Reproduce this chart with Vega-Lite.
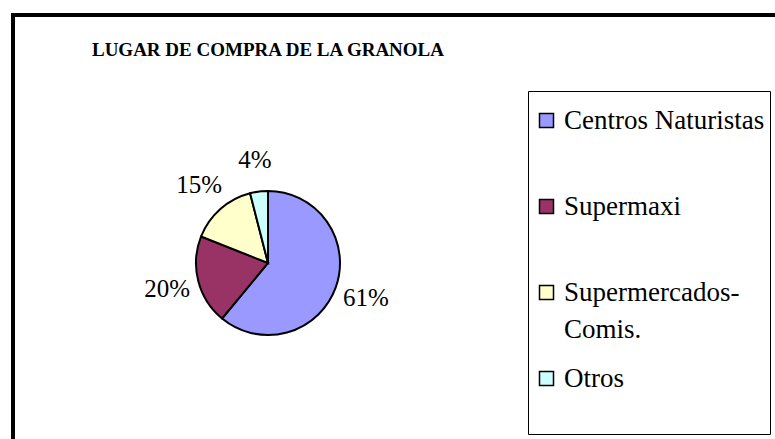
{
  "$schema": "https://vega.github.io/schema/vega-lite/v6.json",
  "autosize": {"type": "pad"},
  "padding": {"left": 10, "top": 12, "right": -2, "bottom": -73},
  "background": "white",
  "spacing": -4,
  "config": {
    "concat": {"spacing": -4},
    "style": {"guide-label": {"lineHeight": 37}}
  },
  "data": {
    "values": [
      {"lugar": "Centros Naturistas", "proporcion": 0.61, "orden": 1},
      {"lugar": "Supermaxi", "proporcion": 0.20, "orden": 2},
      {"lugar": "Supermercados-Comis.", "proporcion": 0.15, "orden": 3},
      {"lugar": "Otros", "proporcion": 0.04, "orden": 4}
    ]
  },
  "hconcat": [
    {
      "width": 510,
      "height": 496,
      "view": {"stroke": "black", "strokeWidth": 4, "strokeCap": "square", "strokeDash": [510, 1006, 496]},
      "title": {
        "text": "LUGAR DE COMPRA DE LA GRANOLA",
        "font": "Liberation Serif",
        "fontSize": 19,
        "fontWeight": "bold",
        "color": "black",
        "anchor": "middle",
        "frame": "group",
        "baseline": "alphabetic",
        "offset": -60
      },
      "encoding": {
        "theta": {"field": "proporcion", "type": "quantitative", "stack": true},
        "order": {"field": "orden", "type": "quantitative"}
      },
      "layer": [
        {
          "mark": {"type": "arc", "outerRadius": 72, "stroke": "black", "strokeWidth": 2},
          "encoding": {
            "color": {
              "field": "lugar",
              "type": "nominal",
              "scale": {
                "domain": ["Centros Naturistas", "Supermaxi", "Supermercados-Comis.", "Otros"],
                "range": ["#9999FF", "#993366", "#FFFFCC", "#CCFFFF"]
              },
              "legend": {
                "orient": "none",
                "legendX": 515,
                "legendY": 76,
                "title": " ",
                "titleFontSize": 6,
                "titlePadding": 5,
                "symbolType": "square",
                "symbolSize": 196,
                "symbolStrokeColor": "black",
                "symbolStrokeWidth": 1.5,
                "labelFont": "Liberation Serif",
                "labelFontSize": 27,
                "labelColor": "black",
                "labelLimit": 400,
                "labelOffset": 4,
                "rowPadding": 21,
                "padding": 5,
                "strokeColor": "black",
                "fillColor": "white",
                "labelExpr": "datum.label == 'Supermercados-Comis.' ? ['Supermercados-', 'Comis.'] : [datum.label, ' ']"
              }
            }
          }
        },
        {
          "mark": {"type": "text", "radius": 104, "font": "Liberation Serif", "fontSize": 25, "color": "black"},
          "encoding": {
            "text": {"field": "proporcion", "type": "quantitative", "format": ".0%"},
            "detail": {"field": "lugar", "type": "nominal"}
          }
        }
      ]
    },
    {
      "width": 253,
      "height": 496,
      "view": {"stroke": "black", "strokeWidth": 4, "strokeCap": "square", "strokeDash": [253, 1245]},
      "mark": {"type": "text", "text": ""},
      "encoding": {}
    }
  ]
}
